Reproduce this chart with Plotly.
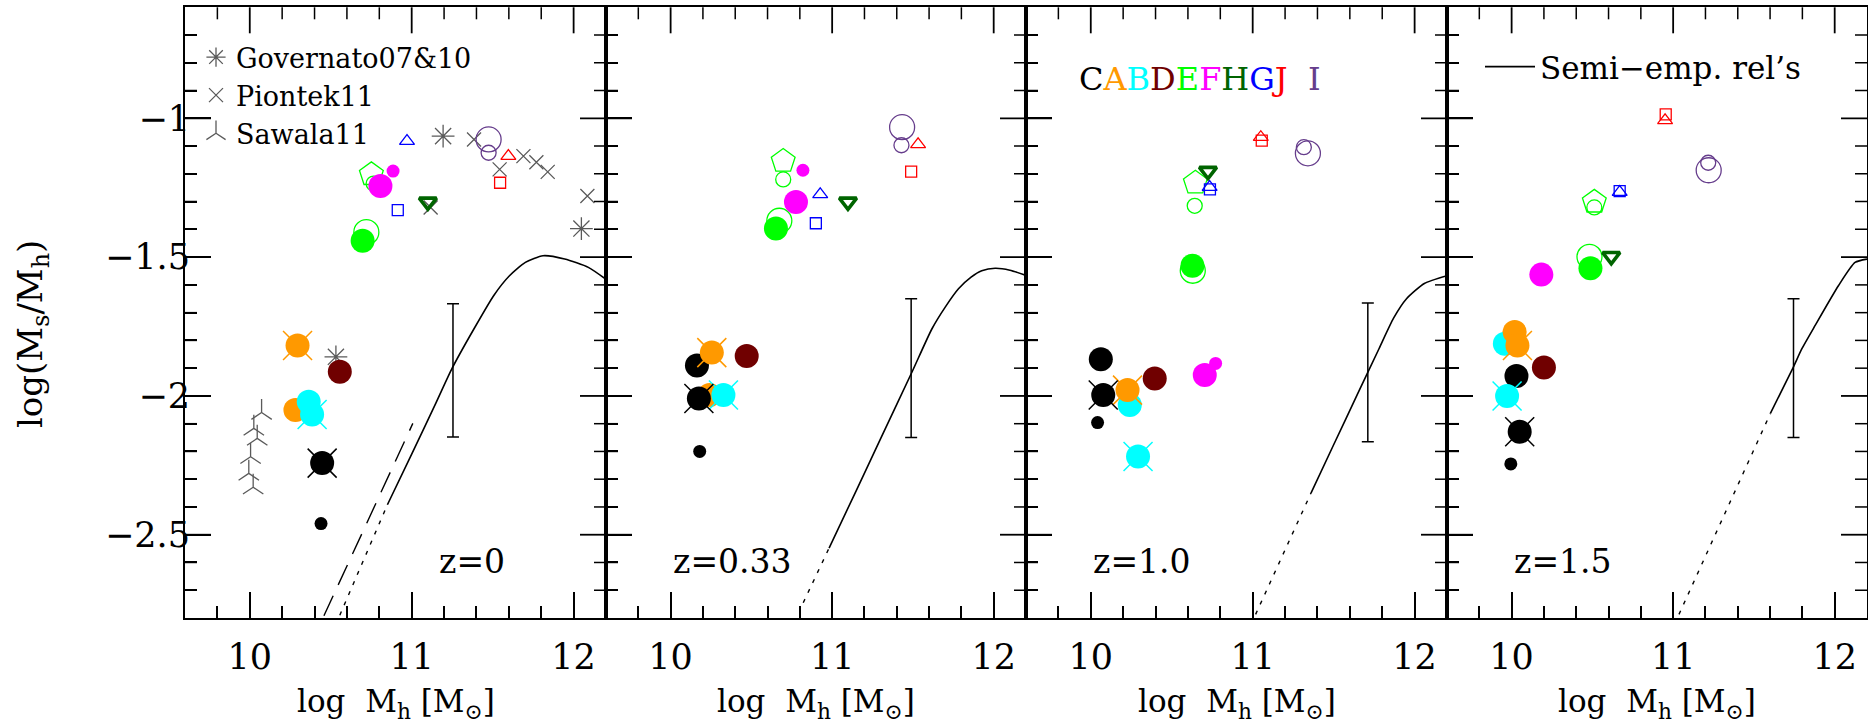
import plotly.graph_objects as go

# ---------------------------------------------------------------- data ----
REDSHIFTS = ["z=0", "z=0.33", "z=1.0", "z=1.5"]

GALAXIES = ["C", "A", "B", "D", "E", "F", "H", "G", "J", "I"]
GALAXY_COLORS = ["#000000", "#ff9900", "#00ffff", "#700000", "#00ff00",
                 "#ff00ff", "#006400", "#0000ff", "#ff0000", "#663d8c"]

# simulated galaxies: galaxy id, run, log Mh, log(Ms/Mh)
Z0_GAL = ["E", "E", "E", "G", "G", "J", "J", "I", "I", "H",
          "A", "B", "D", "E", "F", "F", "C", "A", "B", "C"]
Z0_RUN = ["pent", "ring_small", "ring", "tri", "sq", "tri", "sq", "ring", "ring_small", "tri_down",
          "big", "big", "big", "big", "big", "small", "small", "crossed", "crossed", "crossed"]
Z0_LOGMH = [10.751, 10.765, 10.72, 10.971, 10.914, 11.597, 11.546, 11.475, 11.475, 11.10,
            10.282, 10.364, 10.556, 10.697, 10.807, 10.885, 10.44, 10.295, 10.385, 10.447]
Z0_RATIO = [-1.202, -1.235, -1.41, -1.082, -1.331, -1.136, -1.232, -1.076, -1.124, -1.301,
            -2.051, -2.021, -1.913, -1.441, -1.244, -1.19, -2.46, -1.818, -2.067, -2.242]

Z033_GAL = ["E", "E", "E", "G", "G", "J", "J", "I", "I", "H",
            "C", "A", "D", "E", "F", "F", "C", "A", "B", "C"]
Z033_RUN = ["pent", "ring_small", "ring", "tri", "sq", "tri", "sq", "ring", "ring_small", "tri_down",
            "big", "big", "big", "big", "big", "small", "small", "crossed", "crossed", "crossed"]
Z033_LOGMH = [10.697, 10.697, 10.673, 10.926, 10.899, 11.532, 11.489, 11.433, 11.429, 11.098,
              10.163, 10.241, 10.471, 10.652, 10.776, 10.819, 10.18, 10.255, 10.327, 10.175]
Z033_RATIO = [-1.154, -1.22, -1.369, -1.274, -1.378, -1.094, -1.192, -1.032, -1.097, -1.301,
              -1.89, -1.997, -1.856, -1.397, -1.301, -1.187, -2.2, -1.844, -1.997, -2.009]

Z1_GAL = ["E", "E", "E", "G", "G", "J", "J", "I", "I", "H",
          "C", "B", "D", "E", "F", "F", "C", "A", "B", "C"]
Z1_RUN = ["pent", "ring_small", "ring", "tri", "sq", "tri", "sq", "ring_small", "ring", "tri_down",
          "big", "big", "big", "big", "big", "small", "small", "crossed", "crossed", "crossed"]
Z1_LOGMH = [10.646, 10.642, 10.63, 10.734, 10.736, 11.05, 11.056, 11.316, 11.341, 10.724,
            10.062, 10.241, 10.395, 10.628, 10.704, 10.771, 10.042, 10.227, 10.292, 10.077]
Z1_RATIO = [-1.232, -1.315, -1.549, -1.248, -1.256, -1.068, -1.08, -1.104, -1.126, -1.19,
            -1.868, -2.033, -1.937, -1.531, -1.925, -1.883, -2.096, -1.979, -2.218, -1.997]

Z15_GAL = ["E", "E", "E", "G", "G", "J", "J", "I", "I", "H",
           "B", "A", "D", "C", "E", "F", "C", "A", "B", "C"]
Z15_RUN = ["pent", "ring_small", "ring", "tri", "sq", "tri", "sq", "ring_small", "ring", "tri_down",
           "big", "big", "big", "big", "big", "big", "small", "crossed", "crossed", "crossed"]
Z15_LOGMH = [10.512, 10.512, 10.482, 10.669, 10.669, 10.95, 10.954, 11.217, 11.22, 10.617,
             9.958, 10.019, 10.2, 10.03, 10.488, 10.184, 9.995, 10.036, 9.972, 10.05]
Z15_RATIO = [-1.301, -1.321, -1.499, -1.266, -1.262, -1.007, -0.986, -1.16, -1.187, -1.497,
             -1.812, -1.77, -1.898, -1.928, -1.54, -1.563, -2.245, -1.818, -2.0, -2.129]

# published simulations (z = 0)
GOV_LOGMH = [11.194, 12.048, 10.532]
GOV_RATIO = [-1.064, -1.397, -1.859]
PIO_LOGMH = [11.117, 11.385, 11.543, 11.69, 11.77, 11.84, 12.085]
PIO_RATIO = [-1.321, -1.076, -1.184, -1.136, -1.158, -1.193, -1.28]
SAW_LOGMH = [10.073, 10.025, 10.046, 10.005, 9.994, 10.021]
SAW_RATIO = [-2.06, -2.117, -2.153, -2.219, -2.279, -2.329]

# semi-empirical relations (solid) and their low-mass extrapolations (dotted)
SEMI_Z0_LOGMH = [10.85, 11.0, 11.15, 11.25, 11.385, 11.507, 11.604, 11.702, 11.811, 11.945, 12.091, 12.2]
SEMI_Z0_RATIO = [-2.392, -2.21, -2.025, -1.90, -1.758, -1.638, -1.567, -1.519, -1.495, -1.507, -1.537, -1.58]
SEMI_Z033_LOGMH = [10.981, 11.15, 11.3, 11.495, 11.618, 11.70, 11.782, 11.86, 11.926, 12.009, 12.1, 12.2]
SEMI_Z033_RATIO = [-2.548, -2.34, -2.154, -1.913, -1.758, -1.68, -1.614, -1.572, -1.549, -1.54, -1.547, -1.566]
SEMI_Z1_LOGMH = [11.36, 11.5, 11.65, 11.78, 11.87, 11.95, 12.06, 12.2]
SEMI_Z1_RATIO = [-2.35, -2.176, -1.99, -1.83, -1.72, -1.65, -1.595, -1.567]
SEMI_Z15_LOGMH = [11.602, 11.745, 11.797, 11.879, 12.023, 12.126, 12.2]
SEMI_Z15_RATIO = [-2.063, -1.895, -1.83, -1.746, -1.603, -1.519, -1.507]

EXTRAP_Z0_LOGMH = [10.556, 10.85]
EXTRAP_Z0_RATIO = [-2.79, -2.392]
EXTRAP_Z033_LOGMH = [10.821, 10.981]
EXTRAP_Z033_RATIO = [-2.745, -2.548]
EXTRAP_Z1_LOGMH = [11.018, 11.36]
EXTRAP_Z1_RATIO = [-2.787, -2.35]
EXTRAP_Z15_LOGMH = [11.036, 11.602]
EXTRAP_Z15_RATIO = [-2.787, -2.063]

# alternative z = 0 relation (dashed)
ALT_Z0_LOGMH = [10.458, 11.007]
ALT_Z0_RATIO = [-2.792, -2.099]

# typical scatter of the semi-empirical relations
ERR_LOGMH = [11.255, 11.489, 11.711, 11.745]
ERR_CENTER = [-1.908, -1.90, -1.915, -1.90]
ERR_HALF = [0.24, 0.25, 0.25, 0.25]

# -------------------------------------------------------------- styles ----
W, H = 1868, 727
FONT = "DejaVu Serif"
GREY = "#5a5a5a"
PANEL_PX = [(185, 606), (606, 1026), (1026, 1447), (1447, 1867)]
PLOT_TOP_PX, PLOT_BOTTOM_PX = 7.3, 618
X_RANGE = [9.6, 12.2]
Y_RANGE = [-2.8, -0.6]
MAJOR_LEN, MINOR_LEN = 26, 12

RUN_ORDER = ["pent", "ring", "ring_small", "big", "small", "crossed", "tri", "sq", "tri_down"]
RUN_STYLE = {
    "pent": dict(symbol="pentagon-open", size=25, width=1.3),
    "ring": dict(symbol="circle-open", size=25, width=1.3),
    "ring_small": dict(symbol="circle-open", size=15, width=1.3),
    "big": dict(symbol="circle", size=24, width=0),
    "small": dict(symbol="circle", size=13, width=0),
    "crossed": dict(symbol="circle", size=24, width=0),
    "tri": dict(symbol="triangle-up-open", size=13, width=1.3),
    "sq": dict(symbol="square-open", size=11, width=1.3),
    "tri_down": dict(symbol="triangle-down-open", size=15, width=3.6),
}

color_of = dict(zip(GALAXIES, GALAXY_COLORS))

panels = [
    (Z0_GAL, Z0_RUN, Z0_LOGMH, Z0_RATIO, SEMI_Z0_LOGMH, SEMI_Z0_RATIO, EXTRAP_Z0_LOGMH, EXTRAP_Z0_RATIO),
    (Z033_GAL, Z033_RUN, Z033_LOGMH, Z033_RATIO, SEMI_Z033_LOGMH, SEMI_Z033_RATIO, EXTRAP_Z033_LOGMH, EXTRAP_Z033_RATIO),
    (Z1_GAL, Z1_RUN, Z1_LOGMH, Z1_RATIO, SEMI_Z1_LOGMH, SEMI_Z1_RATIO, EXTRAP_Z1_LOGMH, EXTRAP_Z1_RATIO),
    (Z15_GAL, Z15_RUN, Z15_LOGMH, Z15_RATIO, SEMI_Z15_LOGMH, SEMI_Z15_RATIO, EXTRAP_Z15_LOGMH, EXTRAP_Z15_RATIO),
]

fig = go.Figure()


def axis_ids(i):
    s = "" if i == 0 else str(i + 1)
    return "x" + s, "y" + s


# published simulations, first panel only
fig.add_trace(go.Scatter(x=GOV_LOGMH, y=GOV_RATIO, mode="markers", name="Governato07&10",
                         marker=dict(symbol="asterisk-open", size=19, color=GREY, line=dict(width=1.3, color=GREY)),
                         legend="legend"))
fig.add_trace(go.Scatter(x=PIO_LOGMH, y=PIO_RATIO, mode="markers", name="Piontek11",
                         marker=dict(symbol="x-thin-open", size=14, color=GREY, line=dict(width=1.3, color=GREY)),
                         legend="legend"))
fig.add_trace(go.Scatter(x=SAW_LOGMH, y=SAW_RATIO, mode="markers", name="Sawala11",
                         marker=dict(symbol="y-up-open", size=17, color=GREY, line=dict(width=1.3, color=GREY)),
                         legend="legend"))

for i, (gal, run, lmh, ratio, sx, sy, ex, ey) in enumerate(panels):
    xa, ya = axis_ids(i)

    # semi-empirical relation
    fig.add_trace(go.Scatter(x=sx, y=sy, mode="lines", xaxis=xa, yaxis=ya,
                             name="Semi\u2212emp. rel\u2019s", showlegend=(i == 3), legend="legend2",
                             line=dict(color="black", width=1.6, shape="spline", smoothing=0.6)))
    fig.add_trace(go.Scatter(x=ex, y=ey, mode="lines", xaxis=xa, yaxis=ya, showlegend=False,
                             line=dict(color="black", width=1.4, dash="4px,7px")))
    if i == 0:
        fig.add_trace(go.Scatter(x=ALT_Z0_LOGMH, y=ALT_Z0_RATIO, mode="lines", xaxis=xa, yaxis=ya,
                                 showlegend=False,
                                 line=dict(color="black", width=1.4, dash="22px,12px")))
    fig.add_trace(go.Scatter(x=[ERR_LOGMH[i]], y=[ERR_CENTER[i]], mode="markers", xaxis=xa, yaxis=ya,
                             showlegend=False, marker=dict(size=1, color="rgba(0,0,0,0)"),
                             error_y=dict(type="data", array=[ERR_HALF[i]], color="black",
                                          thickness=1.5, width=6)))

    for r in RUN_ORDER:
        idx = [k for k, rr in enumerate(run) if rr == r]
        if not idx:
            continue
        px = [lmh[k] for k in idx]
        py = [ratio[k] for k in idx]
        cols = [color_of[gal[k]] for k in idx]
        if r == "crossed":
            fig.add_trace(go.Scatter(x=px, y=py, mode="markers", xaxis=xa, yaxis=ya, showlegend=False,
                                     marker=dict(symbol="x-thin-open", size=29, color=cols,
                                                 line=dict(width=1.5, color=cols))))
        st = RUN_STYLE[r]
        mk = dict(symbol=st["symbol"], size=st["size"], color=cols,
                  line=dict(width=st["width"], color=cols) if st["width"] > 0 else dict(width=0))
        fig.add_trace(go.Scatter(x=px, y=py, mode="markers", xaxis=xa, yaxis=ya,
                                 showlegend=False, marker=mk))

# ------------------------------------------------------------- layout ----
layout = dict(
    width=W, height=H, autosize=False,
    margin=dict(l=0, r=0, t=0, b=0),
    paper_bgcolor="white", plot_bgcolor="white",
    font=dict(family=FONT, color="black"),
    showlegend=True,
    legend=dict(x=196 / W, y=1 - 33 / H, xanchor="left", yanchor="top",
                font=dict(family=FONT, size=27, color="black"),
                bgcolor="rgba(0,0,0,0)", itemsizing="trace", tracegroupgap=0),
    legend2=dict(x=1480 / W, y=1 - 40 / H, xanchor="left", yanchor="top",
                 font=dict(family=FONT, size=31, color="black"),
                 bgcolor="rgba(0,0,0,0)", itemwidth=50),
)

TICK = dict(ticks="inside", ticklen=MAJOR_LEN, tickwidth=1.8, tickcolor="black")
X_MINOR = dict(ticks="inside", ticklen=MINOR_LEN, tickwidth=1.5, tickcolor="black",
               tickmode="linear", dtick=0.2, tick0=0, showgrid=False)
Y_MINOR = dict(ticks="inside", ticklen=MINOR_LEN, tickwidth=1.5, tickcolor="black",
               tickmode="linear", dtick=0.1, tick0=0, showgrid=False)

y_dom = [1 - PLOT_BOTTOM_PX / H, 1 - PLOT_TOP_PX / H]
plot_h = PLOT_BOTTOM_PX - PLOT_TOP_PX
annotations = []
shapes = []
for i, (l, r) in enumerate(PANEL_PX):
    s = "" if i == 0 else str(i + 1)
    xa, ya = axis_ids(i)
    layout["xaxis" + s] = dict(
        domain=[l / W, r / W], range=X_RANGE, anchor="y" + s,
        tickmode="linear", tick0=0, dtick=1, **TICK,
        showline=True, linewidth=2, linecolor="black", mirror=True,
        showgrid=False, zeroline=False, layer="above traces",
        tickfont=dict(family=FONT, size=35, color="black"), ticklabelstandoff=7,
        minor=X_MINOR,
    )
    layout["yaxis" + s] = dict(
        domain=y_dom, range=Y_RANGE, anchor="x" + s,
        tickmode="linear", tick0=0, dtick=0.5, **TICK,
        showline=True, linewidth=2, linecolor="black", mirror=True,
        showgrid=False, zeroline=False, showticklabels=(i == 0), layer="above traces",
        tickfont=dict(family=FONT, size=35, color="black"), ticklabelstandoff=-14,
        minor=Y_MINOR,
    )

    # tick marks along the top edge and both vertical edges of the frame
    plot_w = r - l
    for k in range(1, 13):
        xv = round(X_RANGE[0] + 0.2 * k, 1)
        major = abs(xv - round(xv)) < 1e-6
        ln = (MAJOR_LEN if major else MINOR_LEN) / plot_h
        shapes.append(dict(type="line", xref=xa, yref=ya + " domain", x0=xv, x1=xv,
                           y0=1, y1=1 - ln, layer="above",
                           line=dict(color="black", width=1.8 if major else 1.5)))
    for k in range(1, 22):
        yv = round(Y_RANGE[0] + 0.1 * k, 1)
        major = abs(2 * yv - round(2 * yv)) < 1e-6
        ln = (MAJOR_LEN if major else MINOR_LEN) / plot_w
        for x0, x1 in ((0, ln), (1, 1 - ln)):
            shapes.append(dict(type="line", xref=xa + " domain", yref=ya, x0=x0, x1=x1,
                               y0=yv, y1=yv, layer="above",
                               line=dict(color="black", width=1.8 if major else 1.5)))

    annotations.append(dict(
        text="log  M<sub>h</sub> [M<sub>\u2299</sub>]", xref="paper", yref="paper",
        x=(l + r) / 2 / W, y=1 - 703 / H, xanchor="center", yanchor="middle",
        showarrow=False, font=dict(family=FONT, size=31, color="black")))

# redshift labels
Z_LABEL_X = [11.155, 10.0, 10.0, 10.0]
for i, zl in enumerate(REDSHIFTS):
    xa, ya = axis_ids(i)
    annotations.append(dict(text=zl, xref=xa, yref=ya, x=Z_LABEL_X[i], y=-2.595,
                            xanchor="left", yanchor="middle", showarrow=False,
                            font=dict(family=FONT, size=33, color="black")))

# galaxy colour key
key = "".join('<span style="color:%s">%s</span>' % (c, g)
              for g, c in zip(GALAXIES[:-1], GALAXY_COLORS[:-1]))
key += "\u00a0\u00a0" + '<span style="color:%s">%s</span>' % (GALAXY_COLORS[-1], GALAXIES[-1])
annotations.append(dict(text=key, xref="x3", yref="y3", x=9.913, y=-0.857,
                        xanchor="left", yanchor="middle", showarrow=False,
                        font=dict(family=FONT, size=32)))

# y-axis title
annotations.append(dict(text="log(M<sub>s</sub>/M<sub>h</sub>)", xref="paper", yref="paper",
                        x=32 / W, y=1 - 334 / H, xanchor="center", yanchor="middle",
                        textangle=-90, showarrow=False,
                        font=dict(family=FONT, size=34, color="black")))

layout["annotations"] = annotations
layout["shapes"] = shapes
fig.update_layout(**layout)

fig.write_html("out.html")
